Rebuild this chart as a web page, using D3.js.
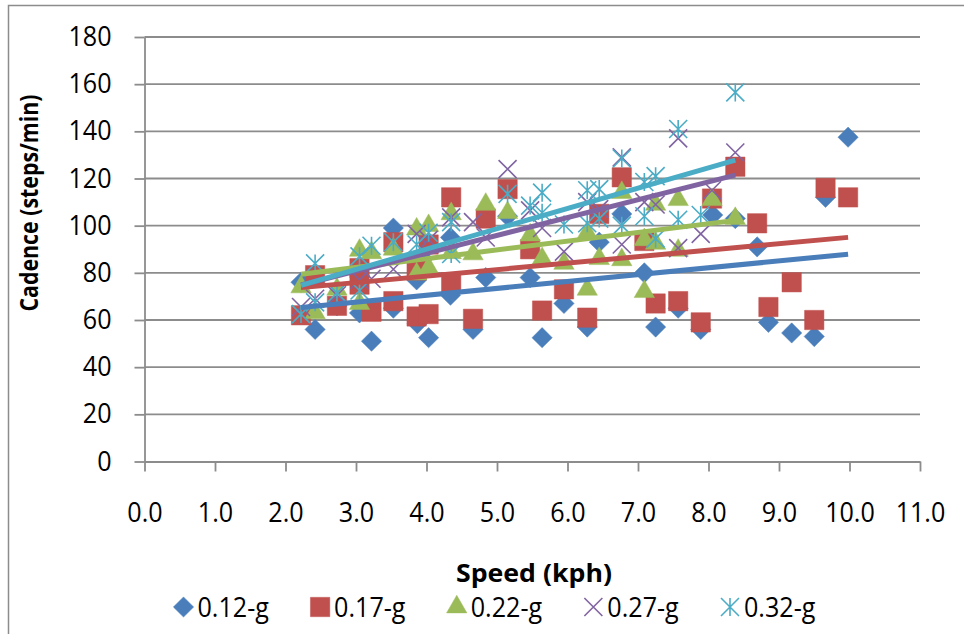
<!DOCTYPE html>
<html>
<head>
<meta charset="utf-8">
<script src="https://cdn.jsdelivr.net/npm/d3@7"></script>
<style>
  body { margin: 0; background: #fff; }
  svg { display: block; }
</style>
</head>
<body>
<svg id="chart" width="964" height="634"></svg>
<script>
// series labels and the tick values of both axes
var seriesNames = ["0.12-g", "0.17-g", "0.22-g", "0.27-g", "0.32-g"];
var xTicks = [0, 1, 2, 3, 4, 5, 6, 7, 8, 9, 10, 11];
var yTicks = [0, 20, 40, 60, 80, 100, 120, 140, 160, 180];

// speed (kph) / cadence (steps/min)
// (a few points sit hidden under other markers, estimated)
var speed12 = [2.22, 2.42, 2.73, 3.05, 3.22, 3.53, 3.53, 3.86, 3.87, 3.95, 4.03, 4.34, 4.34, 4.66, 4.84, 5.15, 5.47, 5.64, 5.95, 6.28, 6.45, 6.77, 7.09, 7.25, 7.57, 7.89, 8.06, 8.38, 8.69, 8.85, 9.18, 9.50, 9.66, 9.98];
var cadence12 = [76, 56, 66, 63, 51, 99, 65, 77, 58.5, 86, 52.5, 95, 70.5, 56, 78, 104, 78, 52.5, 67, 57, 93, 105, 80, 57, 65, 56, 104.5, 103, 91, 59, 54.5, 53, 112, 137.5];

var speed17 = [2.22, 2.42, 2.73, 3.05, 3.05, 3.22, 3.53, 3.53, 3.86, 3.86, 4.03, 4.03, 4.35, 4.35, 4.66, 4.84, 5.15, 5.47, 5.64, 5.95, 6.28, 6.45, 6.77, 7.09, 7.25, 7.57, 7.89, 8.05, 8.38, 8.69, 8.85, 9.18, 9.50, 9.66, 9.98];
var cadence17 = [62, 79, 66, 82, 75, 63.5, 93, 68, 61.5, 81, 62.5, 92, 112, 76, 60.5, 103, 115.5, 90, 64, 73, 61, 105, 120.5, 93.5, 67, 68, 59, 111.5, 125, 101, 65.5, 76, 60, 116, 112];

var speed22 = [2.22, 2.42, 2.73, 3.05, 3.05, 3.22, 3.53, 3.86, 3.86, 4.03, 4.03, 4.35, 4.35, 4.66, 4.84, 5.15, 5.47, 5.64, 5.95, 6.28, 6.28, 6.45, 6.77, 6.77, 7.09, 7.09, 7.25, 7.25, 7.57, 7.57, 8.05, 8.38];
var cadence22 = [74, 63, 73, 89.5, 67, 88.5, 90, 98.5, 79.5, 100, 82, 105, 88.5, 88, 109, 105.5, 96, 86, 84, 73, 97, 86, 114, 85.5, 94, 72, 109, 92.5, 111, 89.5, 111, 103];

var speed27 = [2.22, 2.42, 2.73, 3.05, 3.22, 3.53, 3.86, 4.03, 4.35, 4.66, 4.84, 5.15, 5.47, 5.64, 5.95, 6.28, 6.45, 6.77, 6.77, 7.09, 7.25, 7.57, 7.57, 7.89, 8.05, 8.38];
var cadence27 = [65.5, 69, 70.5, 77, 77.5, 81.5, 96.5, 94, 103.5, 101.5, 95, 124, 106.5, 99, 89, 110, 107, 129, 92, 110, 109, 137, 90.5, 96.5, 115, 131];

var speed32 = [2.22, 2.42, 2.42, 2.73, 3.05, 3.05, 3.22, 3.53, 3.86, 4.03, 4.35, 4.35, 5.15, 5.47, 5.64, 5.64, 5.95, 6.28, 6.28, 6.45, 6.45, 6.77, 6.77, 7.09, 7.09, 7.25, 7.25, 7.57, 7.57, 7.89, 8.38];
var cadence32 = [62.5, 84, 67.5, 71.5, 87, 72.5, 91.5, 93, 92, 97, 101.5, 88, 113.5, 108.5, 114, 105.5, 100.5, 115, 101, 115.5, 103, 128.5, 100, 118.5, 104, 121, 94.5, 141, 102.5, 104.5, 156.5];

var speeds = [speed12, speed17, speed22, speed27, speed32];
var cadences = [cadence12, cadence17, cadence22, cadence27, cadence32];

var colors = ["#4a7ebb", "#c0504d", "#9bbb59", "#8064a2", "#4bacc6"];
var shapes = ["diamond", "square", "triangle", "cross", "star"];

var series = seriesNames.map(function(name, i) {
    return {
        name: name,
        color: colors[i],
        shape: shapes[i],
        points: speeds[i].map(function(s, j) { return { x: s, y: cadences[i][j] }; })
    };
});

var svg = d3.select("#chart");
var labelFont = "'Open Sans', sans-serif";
var squeeze = 0.93;

var x = d3.scaleLinear().domain([0, 11]).range([144.5, 920]);
var y = d3.scaleLinear().domain([0, 180]).range([461.5, 37]);

// outer chart border
svg.append("rect")
    .attr("x", 8.5).attr("y", 5.5)
    .attr("width", 1000).attr("height", 700)
    .attr("fill", "none")
    .attr("stroke", "#8c8c8c")
    .attr("stroke-width", 1.5);

// horizontal gridlines
svg.append("g")
    .selectAll("line")
    .data(yTicks.slice(1))
    .join("line")
    .attr("x1", x(0)).attr("x2", x(11))
    .attr("y1", function(d) { return y(d); })
    .attr("y2", function(d) { return y(d); })
    .attr("stroke", "#8c8c8c")
    .attr("stroke-width", 1.8);

// y axis
var yAxis = svg.append("g")
    .attr("transform", "translate(" + x(0) + ",0)")
    .call(d3.axisLeft(y).tickValues(yTicks).tickSize(10).tickSizeOuter(0));

// x axis
var xAxis = svg.append("g")
    .attr("transform", "translate(0," + y(0) + ")")
    .call(d3.axisBottom(x).tickValues(xTicks).tickSize(10).tickSizeOuter(0).tickPadding(31).tickFormat(d3.format(".1f")));

[yAxis, xAxis].forEach(function(ax) {
    ax.select(".domain").attr("stroke", "#8c8c8c").attr("stroke-width", 1.8);
    ax.selectAll(".tick line").attr("stroke", "#8c8c8c").attr("stroke-width", 1.8);
    ax.selectAll("text")
        .attr("fill", "#000")
        .style("font-family", labelFont)
        .style("font-size", "27px");
});

yAxis.selectAll("text")
    .attr("x", -33 / squeeze)
    .attr("transform", "scale(" + squeeze + ",1)");
xAxis.selectAll("text")
    .attr("transform", "scale(" + squeeze + ",1)");

// marker drawing
function markerPath(shape) {
    if (shape === "diamond") return d3.symbol(d3.symbolSquare, 205)();
    if (shape === "square") return d3.symbol(d3.symbolSquare, 375)();
    if (shape === "triangle") return d3.symbol(d3.symbolTriangle, 180)();
    var h = 9;
    var p = d3.path();
    p.moveTo(-h, -h); p.lineTo(h, h);
    p.moveTo(-h, h); p.lineTo(h, -h);
    if (shape === "star") { p.moveTo(0, -h); p.lineTo(0, h); }
    return p.toString();
}

function drawMarker(sel, s) {
    var stroked = s.shape === "cross" || s.shape === "star";
    sel.append("path")
        .attr("d", markerPath(s.shape))
        .attr("transform", s.shape === "diamond" ? "rotate(45)" : null)
        .attr("fill", stroked ? "none" : s.color)
        .attr("stroke", s.color)
        .attr("stroke-width", stroked ? 1.6 : 0.8)
        .attr("stroke-opacity", stroked ? 1 : 0.6);
}

var plot = svg.append("g");

series.forEach(function(s) {
    plot.append("g")
        .selectAll("g")
        .data(s.points)
        .join("g")
        .attr("transform", function(d) { return "translate(" + x(d.x) + "," + y(d.y) + ")"; })
        .each(function() { drawMarker(d3.select(this), s); });
});

// linear trendlines (least squares over each series)
function fit(points) {
    var mx = d3.mean(points, function(d) { return d.x; });
    var my = d3.mean(points, function(d) { return d.y; });
    var sxy = d3.sum(points, function(d) { return (d.x - mx) * (d.y - my); });
    var sxx = d3.sum(points, function(d) { return (d.x - mx) * (d.x - mx); });
    var slope = sxy / sxx;
    return { slope: slope, intercept: my - slope * mx };
}

var line = d3.line()
    .x(function(d) { return x(d[0]); })
    .y(function(d) { return y(d[1]); });

series.forEach(function(s) {
    var f = fit(s.points);
    var ext = d3.extent(s.points, function(d) { return d.x; });
    plot.append("path")
        .datum(ext.map(function(v) { return [v, f.intercept + f.slope * v]; }))
        .attr("d", line)
        .attr("fill", "none")
        .attr("stroke", s.color)
        .attr("stroke-width", 5);
});

// axis titles
svg.append("text")
    .attr("transform", "translate(38,203) rotate(-90)")
    .attr("text-anchor", "middle")
    .attr("textLength", 217)
    .attr("lengthAdjust", "spacingAndGlyphs")
    .style("font-family", labelFont)
    .style("font-size", "25px")
    .style("font-weight", "bold")
    .text("Cadence (steps/min)");

svg.append("text")
    .attr("x", 534).attr("y", 582)
    .attr("text-anchor", "middle")
    .attr("textLength", 156)
    .attr("lengthAdjust", "spacingAndGlyphs")
    .style("font-family", labelFont)
    .style("font-size", "25px")
    .style("font-weight", "bold")
    .text("Speed (kph)");

// legend
var legendX = d3.scalePoint().domain(seriesNames).range([183.5, 730]);
var legend = svg.append("g")
    .selectAll("g")
    .data(series)
    .join("g")
    .attr("transform", function(d) { return "translate(" + legendX(d.name) + ",607)"; });

legend.each(function(s) { drawMarker(d3.select(this), s); });

legend.append("text")
    .attr("x", 14 / squeeze)
    .attr("y", 9.5)
    .attr("transform", "scale(" + squeeze + ",1)")
    .style("font-family", labelFont)
    .style("font-size", "27px")
    .text(function(d) { return d.name; });
</script>
</body>
</html>
